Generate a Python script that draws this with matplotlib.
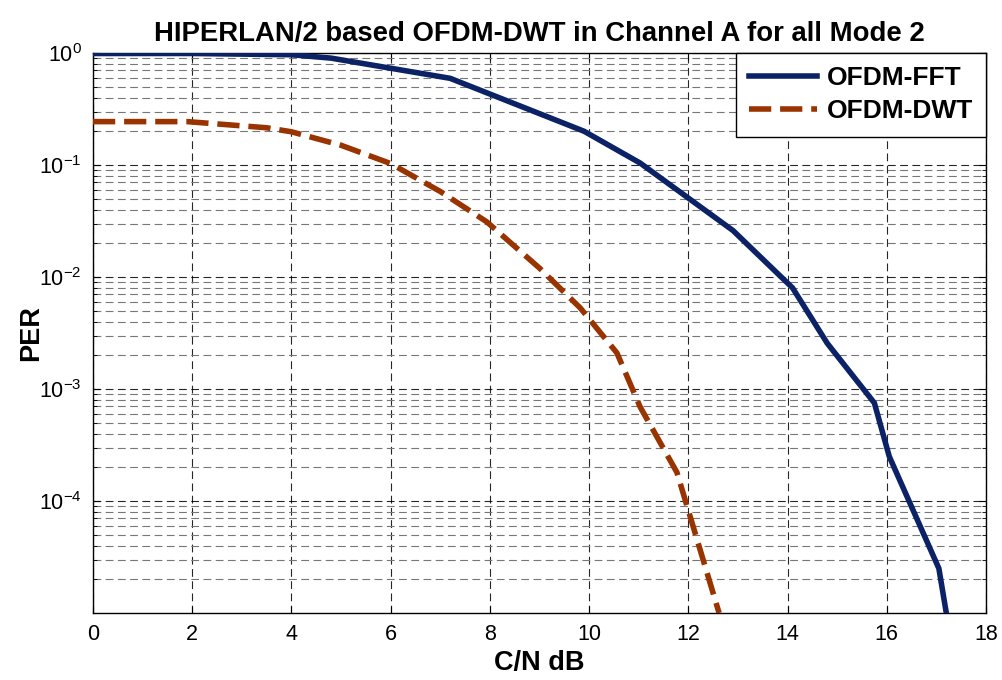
import matplotlib
matplotlib.use("Agg")
import matplotlib.pyplot as plt
from matplotlib.ticker import LogLocator, FixedLocator, NullFormatter
import numpy as np

# Data
fft_x = [0.0, 2.0, 4.0, 4.8, 7.2, 9.9, 11.03, 12.9, 14.1, 14.8, 15.75, 16.05, 17.05, 17.2]
fft_y = [0.99, 0.99, 0.965, 0.90, 0.594, 0.20, 0.104, 0.026, 0.0080, 0.00256, 7.5e-4, 2.5e-4, 2.5e-5, 1.0e-5]

dwt_x = [0.0, 1.9, 3.5, 4.0, 5.0, 6.0, 7.0, 7.94, 9.0, 9.82, 10.56, 11.03, 11.77, 12.62]
dwt_y = [0.244, 0.244, 0.215, 0.198, 0.15, 0.103, 0.058, 0.031, 0.012, 0.0053, 0.0021, 6.9e-4, 1.8e-4, 1.0e-5]

x_ticks = [0, 2, 4, 6, 8, 10, 12, 14, 16, 18]
y_ticks = [1e-4, 1e-3, 1e-2, 1e-1, 1e0]
y_ticklabels = [r"$10^{-4}$", r"$10^{-3}$", r"$10^{-2}$", r"$10^{-1}$", r"$10^{0}$"]

title = "HIPERLAN/2 based OFDM-DWT in Channel A for all Mode 2"
labels = ["OFDM-FFT", "OFDM-DWT"]

plt.rcParams['font.family'] = ['Liberation Sans', 'DejaVu Sans']
plt.rcParams['mathtext.fontset'] = 'custom'
plt.rcParams['mathtext.rm'] = 'Liberation Sans'

fig = plt.figure(figsize=(10.02, 6.8), dpi=100)
ax = fig.add_axes([93/1002, 1-613/680, (986-93)/1002, (613-53)/680])

ax.plot(fft_x, fft_y, color='#0b2266', lw=4.0, solid_joinstyle='miter', label=labels[0], zorder=3)
ax.plot(dwt_x, dwt_y, color='#993300', lw=4.0, dashes=(4.0, 1.6), label=labels[1], zorder=3)

ax.set_yscale('log')
ax.set_xlim(0, 18)
ax.set_ylim(1e-5, 1)
ax.set_xticks(x_ticks)
ax.set_xticklabels([str(t) for t in x_ticks])
ax.yaxis.set_major_locator(FixedLocator(y_ticks))
ax.set_yticklabels(y_ticklabels)
ax.yaxis.set_minor_locator(LogLocator(base=10, subs=np.arange(2, 10), numticks=20))
ax.yaxis.set_minor_formatter(NullFormatter())

ax.grid(True, which='major', axis='both', color='black', linestyle=(0, (7, 4)), linewidth=0.8, alpha=0.85)
ax.grid(True, which='minor', axis='y', color='#777777', linestyle=(0, (7, 4)), linewidth=0.8)
ax.set_axisbelow(True)

ax.tick_params(which='both', direction='in', top=True, right=True, labelsize=15.5, pad=8)
ax.tick_params(which='major', length=5, width=0.8)
ax.tick_params(which='minor', length=3, width=0.6)
for s in ax.spines.values():
    s.set_linewidth(1.0)

ax.set_title(title, fontsize=19.8, fontweight='bold', pad=9)
ax.set_xlabel("C/N dB", fontsize=19.5, fontweight='bold')
ax.set_ylabel("PER", fontsize=19.5, fontweight='bold')
ax.xaxis.set_label_coords(0.5, -0.066)
ax.yaxis.set_label_coords(-0.055, 0.5)

leg = ax.legend(loc='upper right', prop={'weight': 'bold', 'size': 19},
                frameon=True, fancybox=False, edgecolor='black', framealpha=1,
                borderaxespad=0.0, handlelength=2.6, handletextpad=0.35, borderpad=0.5, labelspacing=0.35)
leg.get_frame().set_linewidth(1.0)

fig.savefig("out.png", dpi=100)
